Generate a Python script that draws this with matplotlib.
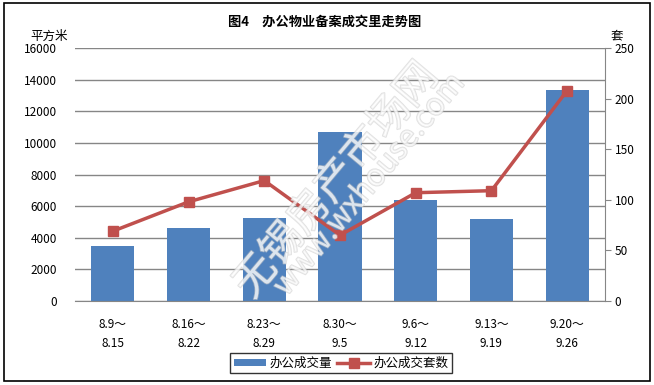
import numpy as np
import matplotlib.pyplot as plt
import matplotlib.patheffects as pe
from matplotlib.patches import Rectangle, Patch
from matplotlib.lines import Line2D

plt.rcParams['font.family'] = ['Noto Sans CJK SC', 'DejaVu Sans']

periods = ['8.9～\n8.15', '8.16～\n8.22', '8.23～\n8.29', '8.30～\n9.5',
           '9.6～\n9.12', '9.13～\n9.19', '9.20～\n9.26']
area = [3480, 4610, 5240, 10660, 6390, 5190, 13340]   # 平方米
units = [69, 98, 119, 65, 107, 109, 208]               # 套

bar_color = '#4F81BD'
line_color = '#C0504D'
grid_color = '#868686'

fig = plt.figure(figsize=(6.54, 3.85), dpi=100)
fig.patches.append(Rectangle((4 / 654, 4 / 385), 646 / 654, 378 / 385,
                             transform=fig.transFigure, fill=False,
                             edgecolor='black', linewidth=1.2))

ax = fig.add_axes([75 / 654, 84 / 385, 530 / 654, 253 / 385])
x = np.arange(len(periods))
ax.bar(x, area, width=0.57, color=bar_color, zorder=2)
ax.set_xlim(-0.5, len(periods) - 0.5)
ax.set_ylim(0, 16000)
ax.set_yticks(np.arange(0, 16001, 2000))
ax.yaxis.grid(True, color=grid_color, linewidth=1)
ax.set_axisbelow(True)
for s in ['left', 'top', 'right']:
    ax.spines[s].set_visible(False)
ax.spines['bottom'].set_color(grid_color)
ax.tick_params(axis='y', length=0, pad=13, labelsize=8.5)
ax.tick_params(axis='x', length=0, pad=12, labelsize=8.5)
ax.set_xticks(x)
ax.set_xticklabels(periods, linespacing=1.6)

ax2 = ax.twinx()
ax2.plot(x, units, color=line_color, linewidth=2.5, marker='s',
         markersize=7, zorder=3)
ax2.set_ylim(0, 250)
ax2.set_yticks(np.arange(0, 251, 50))
for s in ['left', 'top', 'bottom']:
    ax2.spines[s].set_visible(False)
ax2.spines['right'].set_color(grid_color)
ax2.tick_params(axis='y', length=4, color=grid_color, pad=3, labelsize=8.5)

fig.text(0.497, 1 - 22 / 385, '图4　办公物业备案成交里走势图', ha='center',
         va='center', fontsize=9.5, fontweight='bold')
fig.text(30 / 654, 1 - 36 / 385, '平方米', ha='left', va='center', fontsize=9)
fig.text(611 / 654, 1 - 36 / 385, '套', ha='left', va='center', fontsize=9)

# watermark (outlined, faint)
wm = [pe.withStroke(linewidth=1.2, foreground='#C8C8C8')]
fig.text(0.515, 0.53, '无锡房产市场网', rotation=50, ha='center', va='center',
         fontsize=30, color='white', alpha=0.55, zorder=10, path_effects=wm)
fig.text(0.565, 0.52, 'www.wxhouse.com', rotation=50, ha='center', va='center',
         fontsize=22, color='white', alpha=0.55, zorder=10, path_effects=wm)

handles = [Patch(facecolor=bar_color, edgecolor='none'),
           Line2D([], [], color=line_color, linewidth=2.5, marker='s', markersize=7)]
leg = fig.legend(handles, ['办公成交量', '办公成交套数'], loc='center',
                 bbox_to_anchor=(341 / 654, 1 - 363 / 385), ncol=2,
                 fontsize=9, frameon=True, fancybox=False, handlelength=2.6,
                 handleheight=0.5, columnspacing=0.4, handletextpad=0.3,
                 borderpad=0.25)
leg.get_frame().set_edgecolor('black')
leg.get_frame().set_linewidth(1)

fig.savefig('out.png', dpi=100)
